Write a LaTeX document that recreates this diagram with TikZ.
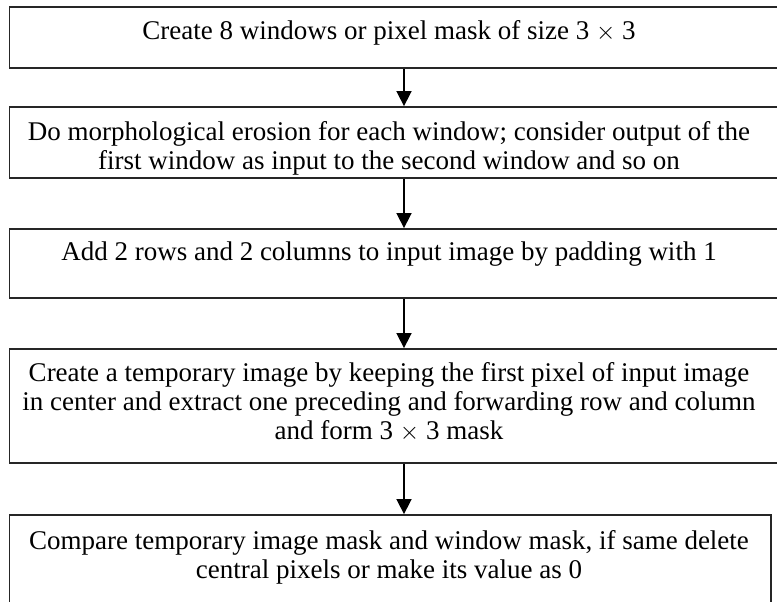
\documentclass[tikz,border=0pt]{standalone}
\usepackage{fontspec}
\setmainfont{Liberation Serif}
\usetikzlibrary{arrows.meta}
\begin{document}
\begin{tikzpicture}[x=1pt,y=-1pt,
  box/.style={draw=black!85, line width=1.8pt, inner sep=0pt},
  txt/.style={font=\fontsize{27}{29}\selectfont, align=center, inner sep=0pt, anchor=north},
  flow/.style={-{Triangle[width=15pt,length=15pt]}, line width=1.6pt}]
\useasboundingbox (0,0) rectangle (777,602);
\clip (0,0) rectangle (777,602);

% process boxes
\node[box, minimum width=790.5pt, minimum height=61pt]  (b1) at (404.75,37.5) {};
\node[box, minimum width=790.5pt, minimum height=71pt]  (b2) at (404.75,142.5) {};
\node[box, minimum width=790.5pt, minimum height=69pt]  (b3) at (404.75,263.5) {};
\node[box, minimum width=790.5pt, minimum height=114pt] (b4) at (404.75,406) {};
\node[box, minimum width=761.5pt, minimum height=125pt] (b5) at (390.25,577.5) {};

% box texts
\node[txt] (t1) at (389,20)  {Create 8 windows or pixel mask of size 3 $\times$ 3};
\node[txt] (t2) at (389,121) {Do morphological erosion for each window; consider output of the\\first window as input to the second window and so on};
\node[txt] (t3) at (389,242) {Add 2 rows and 2 columns to input image by padding with 1};
\node[txt] (t4) at (389,362) {Create a temporary image by keeping the first pixel of input image\\in center and extract one preceding and forwarding row and column\\and form 3 $\times$ 3 mask};
\node[txt] (t5) at (389,530) {Compare temporary image mask and window mask, if same delete\\central pixels or make its value as 0};

% arrows between steps
\coordinate (ax) at (404,0);
\draw[flow] (b1.south -| ax) -- (b2.north -| ax);
\draw[flow] (b2.south -| ax) -- (b3.north -| ax);
\draw[flow] (b3.south -| ax) -- (b4.north -| ax);
\draw[flow] (b4.south -| ax) -- (b5.north -| ax);
\end{tikzpicture}
\end{document}
